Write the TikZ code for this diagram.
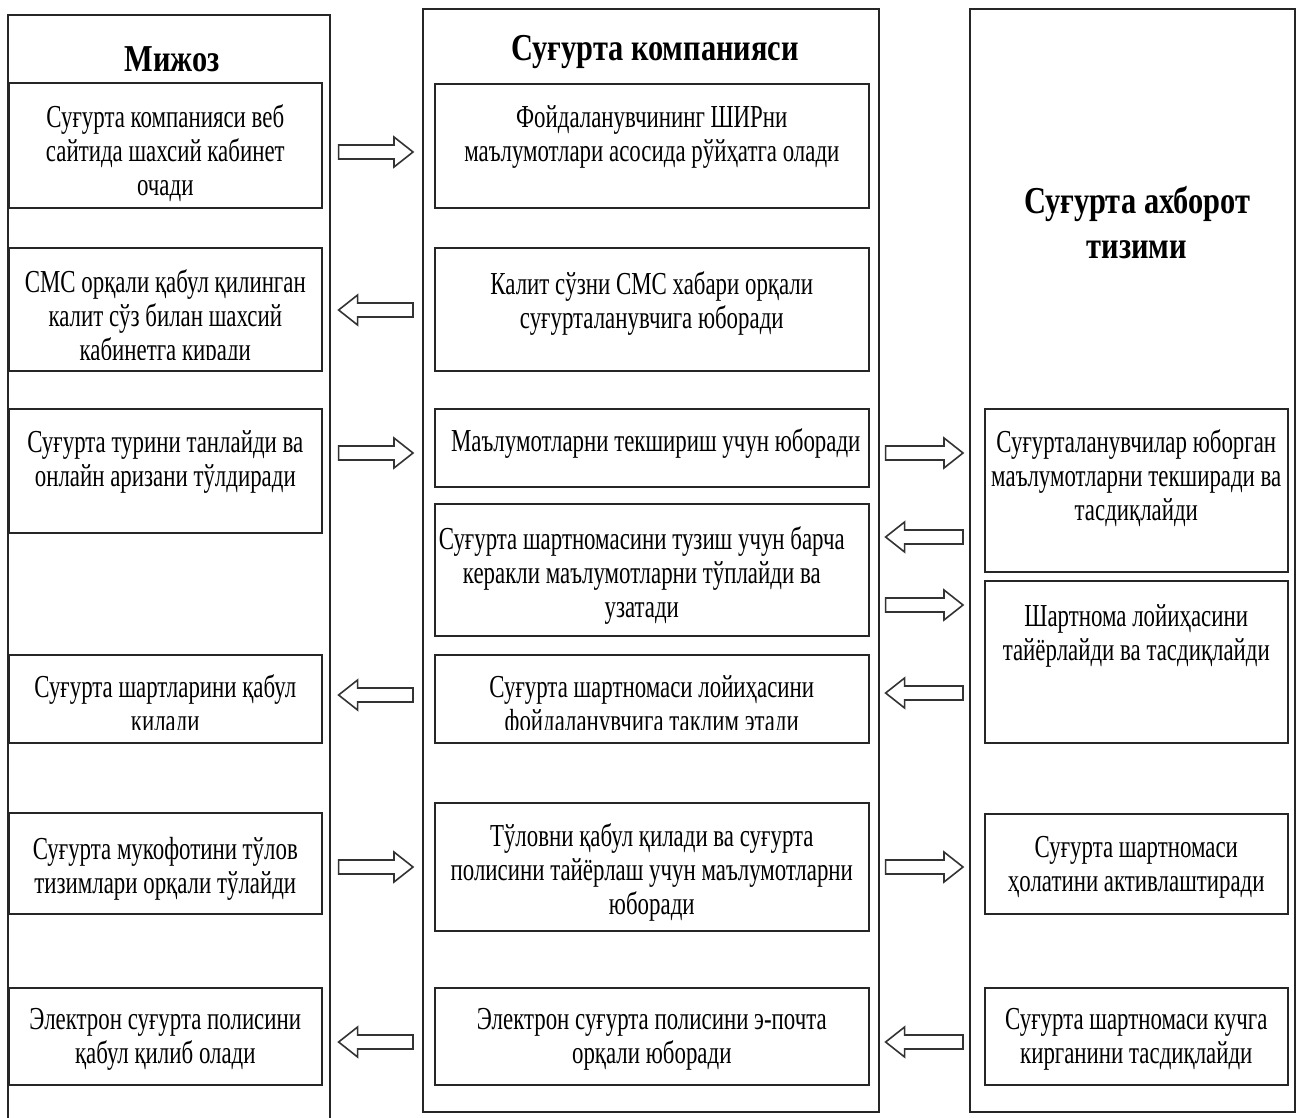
\documentclass[tikz,border=0pt]{standalone}
\usepackage{fontspec}
\setmainfont{Liberation Serif}[FakeStretch=0.715]
\newfontfamily\headfont{Liberation Serif}[FakeStretch=0.8]
\usetikzlibrary{calc}

\tikzset{
  lane/.style={draw=black!85, line width=1.6pt},
  stepbox/.style={draw=black!85, line width=1.6pt, rectangle, inner sep=0pt, anchor=north west},
  boxtext/.style={anchor=north, align=center, inner sep=0pt, font=\fontsize{32}{34}\selectfont},
  headtext/.style={align=center, inner sep=0pt, font=\headfont\bfseries\fontsize{38}{45}\selectfont},
  flow/.style={draw=black!80, fill=white, line width=1.6pt, line join=miter},
}

% box: name, x1, y1, x2, y2, text drop, text shift, bottom margin, text
\newcommand\stepnode[9]{%
  \node[stepbox, minimum width={#4pt-#2pt}, minimum height={#5pt-#3pt}] (#1) at (#2,#3) {};
  \begin{scope}
    \clip ([shift={(-30,0)}]#1.north west) rectangle ([shift={(30,-#8)}]#1.south east);
    \node[boxtext] (#1t) at ($(#1.north)+(#7,#6+2)$) {\strut#9};
  \end{scope}}

% hollow block arrow from one coordinate to another (horizontal)
\newcommand\blockflow[2]{%
  \draw[flow] let \p1=(#1), \p2=(#2),
    \n1={\x2-19*(\x2-\x1)/abs(\x2-\x1)} in
    (\x1,\y1+7pt) -- (\n1,\y1+7pt) -- (\n1,\y1+15pt) -- (\x2,\y2)
    -- (\n1,\y1-15pt) -- (\n1,\y1-7pt) -- (\x1,\y1-7pt) -- cycle;}
\newcommand\rightflow[4]{%
  \coordinate (#1a) at ([xshift=16pt]#2.east |- 0,#4);
  \coordinate (#1b) at ([xshift=-21pt]#3.west |- 0,#4);
  \blockflow{#1a}{#1b}}
\newcommand\leftflow[4]{%
  \coordinate (#1a) at ([xshift=-21pt]#2.west |- 0,#4);
  \coordinate (#1b) at ([xshift=16pt]#3.east |- 0,#4);
  \blockflow{#1a}{#1b}}

\begin{document}
\begin{tikzpicture}[x=1pt, y=-1pt]
\useasboundingbox[fill=white] (0,0) rectangle (1299,1117);

% swimlanes
\draw[lane] (8,1125) -- (8,15) -- (330,15) -- (330,1125);
\draw[lane] (423,9) rectangle (879,1112);
\draw[lane] (970,9) rectangle (1295,1112);

\node[headtext] (hL) at (172,59) {Мижоз};
\node[headtext] (hM) at (655,52) {Суғурта компанияси};
\node[headtext] (hR) at (1137,223) {Суғурта ахборот\\тизими};

% client lane
\stepnode{L1}{8}{82}{321}{207}{19}{0}{6}{Суғурта компанияси веб\\сайтида шахсий кабинет\\очади}
\stepnode{L2}{8}{247}{321}{370}{19}{0}{12}{СМС орқали қабул қилинган\\калит сўз билан шахсий\\кабинетга киради}
\stepnode{L3}{8}{408}{321}{532}{18}{0}{6}{Суғурта турини танлайди ва\\онлайн аризани тўлдиради}
\stepnode{L4}{8}{654}{321}{742}{17}{0}{14}{Суғурта шартларини қабул\\қилади}
\stepnode{L5}{8}{812}{321}{913}{21}{0}{6}{Суғурта мукофотини тўлов\\тизимлари орқали тўлайди}
\stepnode{L6}{8}{987}{321}{1084}{16}{0}{6}{Электрон суғурта полисини\\қабул қилиб олади}

% company lane
\stepnode{M1}{434}{83}{868}{207}{18}{0}{6}{Фойдаланувчининг ШИРни\\маълумотлари асосида рўйҳатга олади}
\stepnode{M2}{434}{247}{868}{370}{21}{0}{6}{Калит сўзни СМС хабари орқали\\суғурталанувчига юборади}
\stepnode{M3}{434}{408}{868}{486}{17}{4}{6}{Маълумотларни текшириш учун юборади}
\stepnode{M4}{434}{503}{868}{635}{20}{-10}{4}{Суғурта шартномасини тузиш учун барча\\керакли маълумотларни тўплайди ва\\узатади}
\stepnode{M5}{434}{654}{868}{742}{17}{0}{14}{Суғурта шартномаси лойиҳасини\\фойдаланувчига таклим этади}
\stepnode{M6}{434}{802}{868}{930}{18}{0}{3}{Тўловни қабул қилади ва суғурта\\полисини тайёрлаш учун маълумотларни\\юборади}
\stepnode{M7}{434}{987}{868}{1084}{16}{0}{6}{Электрон суғурта полисини э-почта\\орқали юборади}

% information system lane
\stepnode{R1}{984}{408}{1287}{571}{18}{0}{6}{Суғурталанувчилар юборган\\маълумотларни текширади ва\\тасдиқлайди}
\stepnode{R2}{984}{580}{1287}{742}{20}{0}{6}{Шартнома лойиҳасини\\тайёрлайди ва тасдиқлайди}
\stepnode{R3}{984}{813}{1287}{913}{18}{0}{6}{Суғурта шартномаси\\ҳолатини активлаштиради}
\stepnode{R4}{984}{987}{1287}{1084}{16}{0}{6}{Суғурта шартномаси кучга\\кирганини тасдиқлайди}

% flows between client and company
\rightflow{f1}{L1}{M1}{152}
\leftflow{f2}{M2}{L2}{310}
\rightflow{f3}{L3}{M3}{453}
\leftflow{f4}{M5}{L4}{695}
\rightflow{f5}{L5}{M6}{867}
\leftflow{f6}{M7}{L6}{1042}

% flows between company and information system
\rightflow{g1}{M3}{R1}{453}
\leftflow{g2}{R1}{M4}{537}
\rightflow{g3}{M4}{R2}{605}
\leftflow{g4}{R2}{M5}{693}
\rightflow{g5}{M6}{R3}{867}
\leftflow{g6}{R4}{M7}{1042}
\end{tikzpicture}
\end{document}
